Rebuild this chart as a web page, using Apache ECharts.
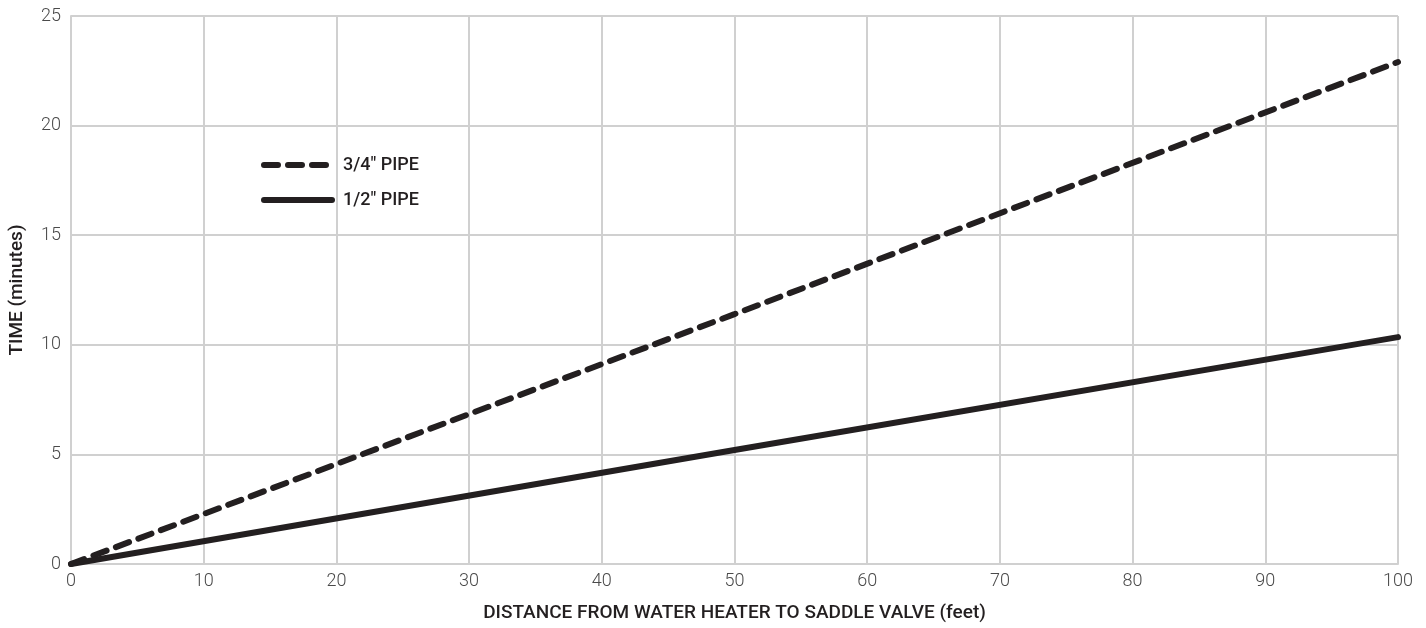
<!DOCTYPE html>
<html>
<head>
<meta charset="utf-8">
<script src="https://cdn.jsdelivr.net/npm/echarts@6/dist/echarts.min.js"></script>
<style>
html,body{margin:0;padding:0;background:#fff;}
#chart{width:1426px;height:628px;}
</style>
</head>
<body>
<div id="chart"></div>
<script>
// Distance (feet) at which values were read
const distance = [0, 50, 100];
// Time (minutes)
const pipe34 = [0, 11.4, 22.9];
const pipe12 = [0, 5.2, 10.35];
const seriesNames = ['3/4" PIPE', '1/2" PIPE'];
const xTicks = [0, 10, 20, 30, 40, 50, 60, 70, 80, 90, 100];
const yTicks = [0, 5, 10, 15, 20, 25];
const xTitle = 'DISTANCE FROM WATER HEATER TO SADDLE VALVE (feet)';
const yTitle = 'TIME (minutes)';

const chart = echarts.init(document.getElementById('chart'));
const lineColor = '#231f20';
const gridColor = '#d0d0d0';
const tickFont = {color: '#4a4a4a', fontSize: 18, fontFamily: 'Roboto', fontWeight: 300};

chart.setOption({
  animation: false,
  backgroundColor: '#fff',
  grid: {left: 70, right: 28, top: 16, bottom: 64, containLabel: false},
  legend: {
    orient: 'vertical',
    left: 256,
    top: 151,
    itemWidth: 68,
    itemHeight: 14,
    itemGap: 17,
    itemStyle: {opacity: 0},
    lineStyle: {width: 6, cap: 'round'},
    textStyle: {color: '#231f20', fontSize: 18, fontFamily: 'Roboto', fontWeight: 500, padding: [0, 0, 0, 6]},
    data: seriesNames
  },
  xAxis: {
    type: 'value', min: 0, max: 100, interval: 10,
    name: xTitle, nameLocation: 'middle', nameGap: 40,
    nameTextStyle: {color: '#231f20', fontSize: 19, fontFamily: 'Roboto', fontWeight: 500},
    axisLine: {show: true, lineStyle: {color: gridColor, width: 2}},
    axisTick: {show: false},
    axisLabel: Object.assign({margin: 8}, tickFont),
    splitLine: {show: true, lineStyle: {color: gridColor, width: 2}}
  },
  yAxis: {
    type: 'value', min: 0, max: 25, interval: 5,
    name: yTitle, nameLocation: 'middle', nameGap: 44, nameRotate: 90,
    nameTextStyle: {color: '#231f20', fontSize: 19, fontFamily: 'Roboto', fontWeight: 500},
    axisLine: {show: true, lineStyle: {color: gridColor, width: 2}},
    axisTick: {show: false},
    axisLabel: Object.assign({margin: 10}, tickFont),
    splitLine: {show: true, lineStyle: {color: gridColor, width: 2}}
  },
  series: [
    {
      name: seriesNames[0], type: 'line', symbol: 'none', showSymbol: false,
      data: distance.map((d, i) => [d, pipe34[i]]),
      lineStyle: {color: lineColor, width: 6, type: [14, 10], cap: 'round'},
      itemStyle: {color: lineColor}
    },
    {
      name: seriesNames[1], type: 'line', symbol: 'none', showSymbol: false,
      data: distance.map((d, i) => [d, pipe12[i]]),
      lineStyle: {color: lineColor, width: 6, cap: 'round'},
      itemStyle: {color: lineColor}
    }
  ]
});
</script>
</body>
</html>
